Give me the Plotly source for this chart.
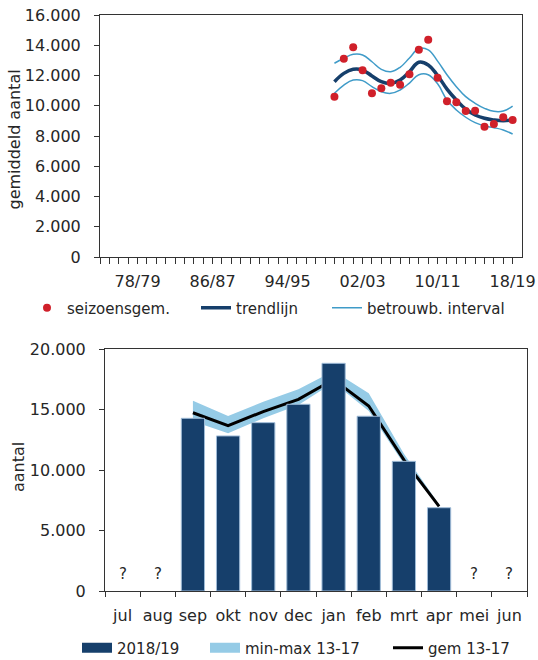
import plotly.graph_objects as go

# ---- Seizoensgemiddelden (bovenste grafiek) ----
seasons = ["74/75", "75/76", "76/77", "77/78", "78/79", "79/80", "80/81", "81/82",
           "82/83", "83/84", "84/85", "85/86", "86/87", "87/88", "88/89", "89/90",
           "90/91", "91/92", "92/93", "93/94", "94/95", "95/96", "96/97", "97/98",
           "98/99", "99/00", "00/01", "01/02", "02/03", "03/04", "04/05", "05/06",
           "06/07", "07/08", "08/09", "09/10", "10/11", "11/12", "12/13", "13/14",
           "14/15", "15/16", "16/17", "17/18", "18/19"]
season_ticks = ["78/79", "86/87", "94/95", "02/03", "10/11", "18/19"]
data_seasons = ["99/00", "00/01", "01/02", "02/03", "03/04", "04/05", "05/06",
                "06/07", "07/08", "08/09", "09/10", "10/11", "11/12", "12/13",
                "13/14", "14/15", "15/16", "16/17", "17/18", "18/19"]
seizoensgem = [10600, 13100, 13860, 12340, 10820, 11150, 11520, 11390, 12080, 13710,
               14370, 11850, 10290, 10230, 9650, 9670, 8610, 8790, 9240, 9060]
trendlijn = [11590, 12140, 12410, 12360, 11970, 11590, 11480, 11700, 12250, 12880,
             12700, 12000, 11100, 10380, 9770, 9390, 9170, 9060, 9010, 9060]
interval_hoog = [12810, 13140, 13400, 13360, 12910, 12410, 12250, 12540, 13160, 13780,
                 13700, 12950, 12050, 11260, 10600, 10160, 9830, 9630, 9650, 9980]
interval_laag = [10820, 11370, 11700, 11660, 11260, 10930, 10820, 11040, 11500, 12050,
                 12050, 11450, 10380, 9720, 9240, 8880, 8660, 8550, 8400, 8130]

# ---- Maandtellingen (onderste grafiek) ----
months = ["jul", "aug", "sep", "okt", "nov", "dec", "jan", "feb", "mrt", "apr", "mei", "jun"]
aantal_2018 = [None, None, 14290, 12830, 13930, 15450, 18840, 14460, 10730, 6890, None, None]
gem_13_17 = [None, None, 14750, 13680, 14850, 15860, 17500, 15310, 10850, 7000, None, None]
max_13_17 = [None, None, 15750, 14480, 15650, 16690, 18200, 16360, 11350, 7150, None, None]
min_13_17 = [None, None, 14050, 13050, 14300, 15400, 17250, 14900, 10500, 6950, None, None]

NAVY = "#163f6b"
LIGHT = "#95cbe6"
BAND_LINE = "#3f9bc8"
RED = "#d0202a"
AXIS = "#333333"
TEXT = "#262626"
FONT = "DejaVu Sans"

W, H = 538, 660

fig = go.Figure()

# bovenste grafiek
fig.add_trace(go.Scatter(x=data_seasons, y=interval_hoog, mode="lines", name="betrouwb. interval",
                         line=dict(color=BAND_LINE, width=1.5, shape="spline", smoothing=1.2),
                         xaxis="x", yaxis="y", legend="legend3"))
fig.add_trace(go.Scatter(x=data_seasons, y=interval_laag, mode="lines", showlegend=False,
                         line=dict(color=BAND_LINE, width=1.5, shape="spline", smoothing=1.2),
                         xaxis="x", yaxis="y"))
fig.add_trace(go.Scatter(x=data_seasons, y=trendlijn, mode="lines", name="trendlijn",
                         line=dict(color=NAVY, width=3.5, shape="spline", smoothing=1.2),
                         xaxis="x", yaxis="y", legend="legend2"))
fig.add_trace(go.Scatter(x=data_seasons, y=seizoensgem, mode="markers", name="seizoensgem.",
                         marker=dict(color=RED, size=8),
                         xaxis="x", yaxis="y", legend="legend"))

# onderste grafiek: min-max band en gemiddelde
band_m = [m for m, v in zip(months, max_13_17) if v is not None]
band_hi = [v for v in max_13_17 if v is not None]
band_lo = [v for v in min_13_17 if v is not None]
gem_m = [m for m, v in zip(months, gem_13_17) if v is not None]
gem_v = [v for v in gem_13_17 if v is not None]

fig.add_trace(go.Scatter(x=band_m, y=band_hi, mode="lines", line=dict(width=0, color=LIGHT),
                         showlegend=False, xaxis="x2", yaxis="y2"))
fig.add_trace(go.Scatter(x=band_m, y=band_lo, mode="lines", line=dict(width=0, color=LIGHT),
                         fill="tonexty", fillcolor=LIGHT, showlegend=False,
                         xaxis="x2", yaxis="y2"))
fig.add_trace(go.Scatter(x=gem_m, y=gem_v, mode="lines", name="gem 13-17",
                         line=dict(color="black", width=3),
                         xaxis="x2", yaxis="y2", legend="legend6"))

# staven op een overliggend assenpaar, zodat ze boven band en lijn liggen
fig.add_trace(go.Bar(x=months, y=aantal_2018, marker=dict(color=NAVY, line=dict(color="#9fbcd8", width=1)),
                     width=0.66, showlegend=False, xaxis="x3", yaxis="y3"))

# legenda-sleutels voor de vlakken
fig.add_trace(go.Scatter(x=[None], y=[None], mode="lines", name="2018/19",
                         line=dict(color=NAVY, width=10), xaxis="x2", yaxis="y2", legend="legend4"))
fig.add_trace(go.Scatter(x=[None], y=[None], mode="lines", name="min-max 13-17",
                         line=dict(color=LIGHT, width=10), xaxis="x2", yaxis="y2", legend="legend5"))

# vraagtekens voor maanden zonder telling
annotations = []
for m, v in zip(months, aantal_2018):
    if v is None:
        annotations.append(dict(x=m, y=0, xref="x2", yref="y2", text="?", showarrow=False,
                                yanchor="bottom", yshift=6, font=dict(size=15, color=TEXT)))

annotations.append(dict(x=13.5 / W, y=1 - 140 / H, xref="paper", yref="paper", text="gemiddeld aantal",
                        textangle=-90, showarrow=False, xanchor="center", yanchor="middle",
                        font=dict(size=16, color=TEXT)))
annotations.append(dict(x=19 / W, y=1 - 467 / H, xref="paper", yref="paper", text="aantal",
                        textangle=-90, showarrow=False, xanchor="center", yanchor="middle",
                        font=dict(size=16, color=TEXT)))

axis_common = dict(showline=True, linecolor=AXIS, linewidth=1, mirror=True, showgrid=False,
                   zeroline=False, ticks="outside", tickcolor=AXIS, tickwidth=1,
                   automargin=False, tickfont=dict(size=16, color=TEXT))

top_ticktext = [s if s in season_ticks else "" for s in seasons]

legend_common = dict(orientation="h", xanchor="left", yanchor="middle", bgcolor="rgba(0,0,0,0)",
                     borderwidth=0, font=dict(size=15, color=TEXT))
ytop = 1 - 308 / H
ybot = 1 - 648 / H

fig.update_layout(
    width=W, height=H, margin=dict(l=0, r=0, t=0, b=0, autoexpand=False),
    paper_bgcolor="white", plot_bgcolor="white",
    separators=",.",
    font=dict(family=FONT, size=15, color=TEXT),
    xaxis=dict(**axis_common, domain=[100 / W, 522 / W], anchor="y", type="category",
               categoryorder="array", categoryarray=seasons, range=[0, 45],
               tickmode="array", tickvals=seasons, ticktext=top_ticktext, ticklen=6,
               tickangle=0, ticklabelstandoff=4),
    yaxis=dict(**axis_common, domain=[1 - 257 / H, 1 - 15 / H], anchor="x", range=[0, 16000],
               dtick=2000, tickformat=",d", ticklen=5, ticklabelstandoff=10),
    xaxis2=dict(**axis_common, domain=[105 / W, 527 / W], anchor="y2", type="category",
                categoryorder="array", categoryarray=months, range=[-0.5, 11.5],
                tickson="boundaries", ticklen=5, tickangle=0, ticklabelstandoff=10),
    yaxis2=dict(**axis_common, domain=[1 - 591 / H, 1 - 349.3 / H], anchor="x2", range=[0, 20000],
                dtick=5000, tickformat=",d", ticklen=5, ticklabelstandoff=10),
    xaxis3=dict(overlaying="x2", type="category", categoryorder="array", categoryarray=months,
                range=[-0.5, 11.5], visible=False, anchor="y3", automargin=False),
    yaxis3=dict(overlaying="y2", range=[0, 20000], visible=False, anchor="x3", automargin=False),
    bargap=0.34,
    annotations=annotations,
    legend=dict(**legend_common, x=27 / W, y=ytop),
    legend2=dict(**legend_common, x=196 / W, y=ytop),
    legend3=dict(**legend_common, x=327 / W, y=ytop),
    legend4=dict(**legend_common, x=77 / W, y=ybot),
    legend5=dict(**legend_common, x=205 / W, y=ybot),
    legend6=dict(**legend_common, x=388 / W, y=ybot),
)

fig.write_html("out.html")
